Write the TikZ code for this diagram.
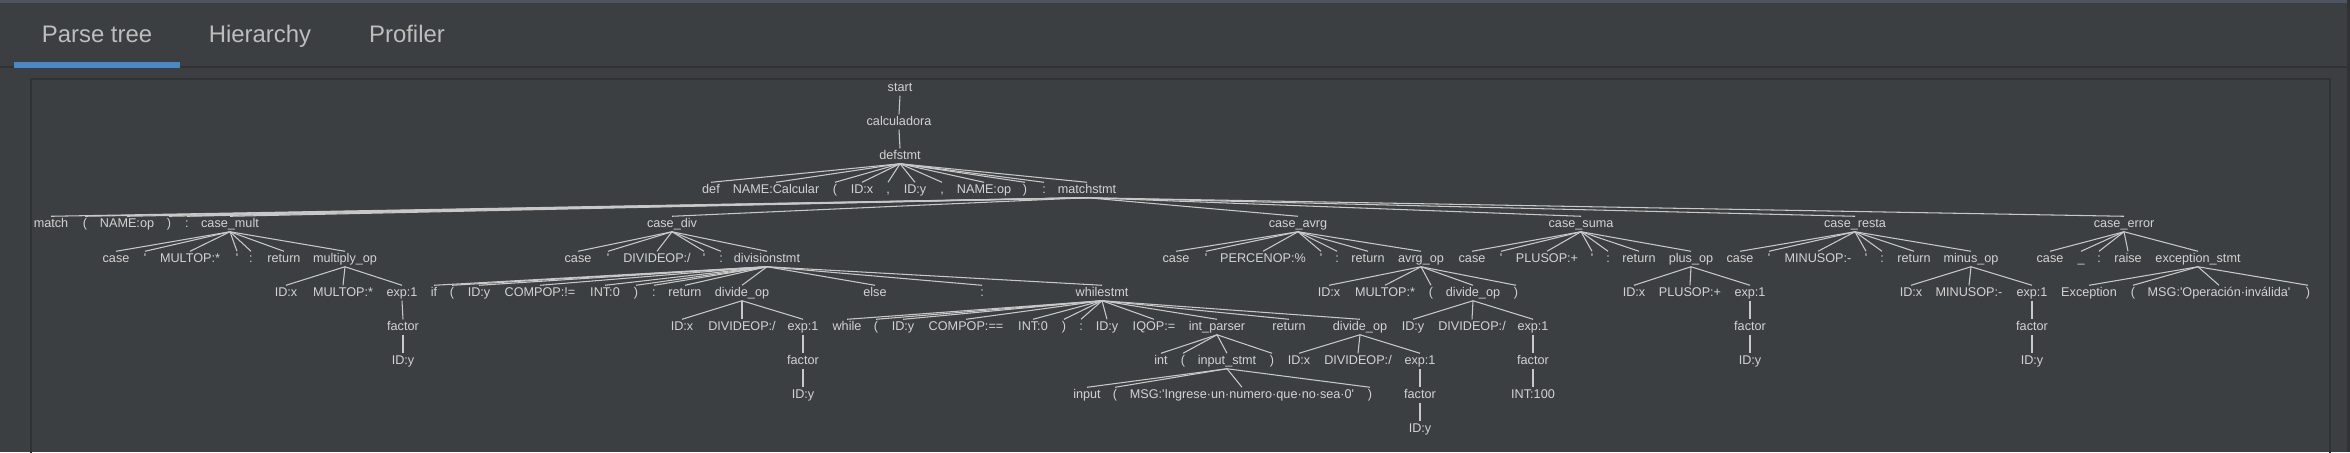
\documentclass[tikz,border=0pt]{standalone}
\usepackage{fontspec}
\setmainfont{Liberation Sans}
\usepackage{xcolor}
\usepackage{tikz}

\definecolor{panelbg}{HTML}{3C3F41}
\definecolor{panelline}{HTML}{303234}
\definecolor{topstripe}{HTML}{4E5560}
\definecolor{tabblue}{HTML}{4A88C7}
\definecolor{tabtext}{HTML}{BDBDBD}
\definecolor{treetext}{HTML}{D2D2D2}
\definecolor{treeline}{HTML}{C8C8C8}

\begin{document}
\begin{tikzpicture}[
  x=0.1mm, y=-0.1mm,
  tab/.style={anchor=base, inner sep=0, text=tabtext,
              font=\fontsize{6.8pt}{8pt}\selectfont},
  tok/.style={inner xsep=0, inner ysep=0.3pt, text=treetext,
              text height=2.6pt, text depth=0.8pt,
              font=\fontsize{3.6pt}{4pt}\selectfont},
  link/.style={draw=treeline, line width=0.3pt}
]
  \useasboundingbox (0,0) rectangle (2350,452);
  % window and tabs
  \fill[panelbg] (0,0) rectangle (2350,452);
  \fill[topstripe] (0,0) rectangle (2350,3);
  \fill[panelline] (0,66) rectangle (2350,68);
  \fill[tabblue] (14,62) rectangle (180,68);
  \fill[panelline] (2347,0) rectangle (2350,452);
  \draw[panelline, line width=0.2mm] (31,79) rectangle (2330,470);
  \node[tab] (tparse) at (97,42) {Parse tree};
  \node[tab] (thier) at (260,42) {Hierarchy};
  \node[tab] (tprof) at (407,42) {Profiler};

  % top of the tree
  \node[tok] (st) at (900,88) {start};
  \node[tok] (calc) at (899,122) {calculadora};
  \node[tok] (defs) at (900,156) {defstmt};

  \node[tok] (kdef) at (711,190) {def};
  \node[tok] (fname) at (776,190) {NAME:Calcular};
  \node[tok] (lp) at (835,190) {(};
  \node[tok] (px) at (862,190) {ID:x};
  \node[tok] (cm1) at (888,190) {,};
  \node[tok] (py) at (915,190) {ID:y};
  \node[tok] (cm2) at (942,190) {,};
  \node[tok] (pop) at (984,190) {NAME:op};
  \node[tok] (rp) at (1025,190) {)};
  \node[tok] (col) at (1044,190) {:};
  \node[tok] (mstmt) at (1087,190) {matchstmt};

  \node[tok] (mt) at (51,224) {match};
  \node[tok] (mlp) at (85,224) {(};
  \node[tok] (mop) at (127,224) {NAME:op};
  \node[tok] (mrp) at (169,224) {)};
  \node[tok] (mcol) at (187,224) {:};
  \node[tok] (cmul) at (230,224) {case\_mult};
  \node[tok] (cdiv) at (672,224) {case\_div};
  \node[tok] (cavg) at (1298,224) {case\_avrg};
  \node[tok] (csum) at (1581,224) {case\_suma};
  \node[tok] (cres) at (1855,224) {case\_resta};
  \node[tok] (cerr) at (2124,224) {case\_error};

  % case_mult
  \node[tok] (mulk) at (116,259) {case};
  \node[tok] (mulq1) at (145,259) {\textquotesingle};
  \node[tok] (mulop) at (190,259) {MULTOP:*};
  \node[tok] (mulq2) at (237,259) {\textquotesingle};
  \node[tok] (mulc) at (251,259) {:};
  \node[tok] (mulr) at (284,259) {return};
  \node[tok] (mulo) at (345,259) {multiply\_op};
  \node[tok] (mx) at (286,293) {ID:x};
  \node[tok] (mm) at (343,293) {MULTOP:*};
  \node[tok] (me) at (402,293) {exp:1};
  \node[tok] (mf) at (403,327) {factor};
  \node[tok] (mid) at (403,361) {ID:y};

  % case_div
  \node[tok] (divk) at (578,259) {case};
  \node[tok] (divq1) at (608,259) {\textquotesingle};
  \node[tok] (divop) at (657,259) {DIVIDEOP:/};
  \node[tok] (divq2) at (704,259) {\textquotesingle};
  \node[tok] (divc) at (721,259) {:};
  \node[tok] (dstmt) at (767,259) {divisionstmt};
  \node[tok] (dif) at (434,293) {if};
  \node[tok] (dlp) at (452,293) {(};
  \node[tok] (dy) at (479,293) {ID:y};
  \node[tok] (dne) at (540,293) {COMPOP:!=};
  \node[tok] (dz) at (605,293) {INT:0};
  \node[tok] (drp) at (636,293) {)};
  \node[tok] (dcol) at (654,293) {:};
  \node[tok] (dret) at (685,293) {return};
  \node[tok] (ddo) at (742,293) {divide\_op};
  \node[tok] (delse) at (875,293) {else};
  \node[tok] (dcol2) at (982,293) {:};
  \node[tok] (wst) at (1102,293) {whilestmt};
  \node[tok] (ddx) at (682,327) {ID:x};
  \node[tok] (ddd) at (742,327) {DIVIDEOP:/};
  \node[tok] (dde) at (803,327) {exp:1};
  \node[tok] (ddf) at (803,361) {factor};
  \node[tok] (ddid) at (803,395) {ID:y};

  % whilestmt
  \node[tok] (wk) at (847,327) {while};
  \node[tok] (wlp) at (876,327) {(};
  \node[tok] (wy) at (903,327) {ID:y};
  \node[tok] (weq) at (966,327) {COMPOP:==};
  \node[tok] (wz) at (1033,327) {INT:0};
  \node[tok] (wrp) at (1064,327) {)};
  \node[tok] (wc) at (1081,327) {:};
  \node[tok] (wy2) at (1107,327) {ID:y};
  \node[tok] (wiq) at (1154,327) {IQOP:=};
  \node[tok] (wip) at (1217,327) {int\_parser};
  \node[tok] (wret) at (1289,327) {return};
  \node[tok] (wdo) at (1360,327) {divide\_op};
  \node[tok] (ik) at (1161,361) {int};
  \node[tok] (ilp) at (1183,361) {(};
  \node[tok] (ist) at (1227,361) {input\_stmt};
  \node[tok] (irp) at (1272,361) {)};
  \node[tok] (isk) at (1087,395) {input};
  \node[tok] (islp) at (1115,395) {(};
  \node[tok] (ismsg) at (1242,395) {MSG:\textquotesingle Ingrese·un·numero·que·no·sea·0\textquotesingle};
  \node[tok] (isrp) at (1370,395) {)};
  \node[tok] (wdx) at (1299,361) {ID:x};
  \node[tok] (wdd) at (1358,361) {DIVIDEOP:/};
  \node[tok] (wde) at (1420,361) {exp:1};
  \node[tok] (wdf) at (1420,395) {factor};
  \node[tok] (wdid) at (1420,429) {ID:y};

  % case_avrg
  \node[tok] (avgk) at (1176,259) {case};
  \node[tok] (avgq1) at (1206,259) {\textquotesingle};
  \node[tok] (avgop) at (1263,259) {PERCENOP:\%};
  \node[tok] (avgq2) at (1321,259) {\textquotesingle};
  \node[tok] (avgc) at (1337,259) {:};
  \node[tok] (avgr) at (1368,259) {return};
  \node[tok] (avgo) at (1421,259) {avrg\_op};
  \node[tok] (ax) at (1329,293) {ID:x};
  \node[tok] (am) at (1385,293) {MULTOP:*};
  \node[tok] (alp) at (1431,293) {(};
  \node[tok] (ado) at (1473,293) {divide\_op};
  \node[tok] (arp) at (1516,293) {)};
  \node[tok] (ady) at (1413,327) {ID:y};
  \node[tok] (add) at (1472,327) {DIVIDEOP:/};
  \node[tok] (ade) at (1533,327) {exp:1};
  \node[tok] (adf) at (1533,361) {factor};
  \node[tok] (aint) at (1533,395) {INT:100};

  % case_suma
  \node[tok] (sumk) at (1472,259) {case};
  \node[tok] (sumq1) at (1501,259) {\textquotesingle};
  \node[tok] (sumop) at (1547,259) {PLUSOP:+};
  \node[tok] (sumq2) at (1592,259) {\textquotesingle};
  \node[tok] (sumc) at (1608,259) {:};
  \node[tok] (sumr) at (1639,259) {return};
  \node[tok] (sumo) at (1691,259) {plus\_op};
  \node[tok] (sx) at (1634,293) {ID:x};
  \node[tok] (sp) at (1690,293) {PLUSOP:+};
  \node[tok] (se) at (1750,293) {exp:1};
  \node[tok] (sf) at (1750,327) {factor};
  \node[tok] (sid) at (1750,361) {ID:y};

  % case_resta
  \node[tok] (resk) at (1740,259) {case};
  \node[tok] (resq1) at (1769,259) {\textquotesingle};
  \node[tok] (resop) at (1818,259) {MINUSOP:-};
  \node[tok] (resq2) at (1866,259) {\textquotesingle};
  \node[tok] (resc) at (1882,259) {:};
  \node[tok] (resr) at (1914,259) {return};
  \node[tok] (reso) at (1971,259) {minus\_op};
  \node[tok] (rx) at (1911,293) {ID:x};
  \node[tok] (rm) at (1969,293) {MINUSOP:-};
  \node[tok] (re) at (2032,293) {exp:1};
  \node[tok] (rf) at (2032,327) {factor};
  \node[tok] (rid) at (2032,361) {ID:y};

  % case_error
  \node[tok] (errk) at (2050,259) {case};
  \node[tok] (erru) at (2081,259) {\_};
  \node[tok] (errc) at (2099,259) {:};
  \node[tok] (errr) at (2128,259) {raise};
  \node[tok] (exst) at (2198,259) {exception\_stmt};
  \node[tok] (exc) at (2089,293) {Exception};
  \node[tok] (elp) at (2133,293) {(};
  \node[tok] (emsg) at (2219,293) {MSG:\textquotesingle Operación·inválida\textquotesingle};
  \node[tok] (erp) at (2308,293) {)};

  % links
  \draw[link] (st.south) -- (calc.north);
  \draw[link] (calc.south) -- (defs.north);
  \draw[link] (defs.south) edge (kdef.north) edge (fname.north) edge (lp.north)
    edge (px.north) edge (cm1.north) edge (py.north) edge (cm2.north)
    edge (pop.north) edge (rp.north) edge (col.north) edge (mstmt.north);
  \draw[link] (mstmt.south) edge (mt.north) edge (mlp.north) edge (mop.north)
    edge (mrp.north) edge (mcol.north) edge (cmul.north) edge (cdiv.north)
    edge (cavg.north) edge (csum.north) edge (cres.north) edge (cerr.north);
  \draw[link] (cmul.south) edge (mulk.north) edge (mulq1.north) edge (mulop.north)
    edge (mulq2.north) edge (mulc.north) edge (mulr.north) edge (mulo.north);
  \draw[link] (mulo.south) edge (mx.north) edge (mm.north) edge (me.north);
  \draw[link] (me.south) -- (mf.north);
  \draw[link] (mf.south) -- (mid.north);
  \draw[link] (cdiv.south) edge (divk.north) edge (divq1.north) edge (divop.north)
    edge (divq2.north) edge (divc.north) edge (dstmt.north);
  \draw[link] (dstmt.south) edge (dif.north) edge (dlp.north) edge (dy.north)
    edge (dne.north) edge (dz.north) edge (drp.north) edge (dcol.north)
    edge (dret.north) edge (ddo.north) edge (delse.north) edge (dcol2.north)
    edge (wst.north);
  \draw[link] (ddo.south) edge (ddx.north) edge (ddd.north) edge (dde.north);
  \draw[link] (dde.south) -- (ddf.north);
  \draw[link] (ddf.south) -- (ddid.north);
  \draw[link] (wst.south) edge (wk.north) edge (wlp.north) edge (wy.north)
    edge (weq.north) edge (wz.north) edge (wrp.north) edge (wc.north)
    edge (wy2.north) edge (wiq.north) edge (wip.north) edge (wret.north)
    edge (wdo.north);
  \draw[link] (wip.south) edge (ik.north) edge (ilp.north) edge (ist.north)
    edge (irp.north);
  \draw[link] (ist.south) edge (isk.north) edge (islp.north) edge (ismsg.north)
    edge (isrp.north);
  \draw[link] (wdo.south) edge (wdx.north) edge (wdd.north) edge (wde.north);
  \draw[link] (wde.south) -- (wdf.north);
  \draw[link] (wdf.south) -- (wdid.north);
  \draw[link] (cavg.south) edge (avgk.north) edge (avgq1.north) edge (avgop.north)
    edge (avgq2.north) edge (avgc.north) edge (avgr.north) edge (avgo.north);
  \draw[link] (avgo.south) edge (ax.north) edge (am.north) edge (alp.north)
    edge (ado.north) edge (arp.north);
  \draw[link] (ado.south) edge (ady.north) edge (add.north) edge (ade.north);
  \draw[link] (ade.south) -- (adf.north);
  \draw[link] (adf.south) -- (aint.north);
  \draw[link] (csum.south) edge (sumk.north) edge (sumq1.north) edge (sumop.north)
    edge (sumq2.north) edge (sumc.north) edge (sumr.north) edge (sumo.north);
  \draw[link] (sumo.south) edge (sx.north) edge (sp.north) edge (se.north);
  \draw[link] (se.south) -- (sf.north);
  \draw[link] (sf.south) -- (sid.north);
  \draw[link] (cres.south) edge (resk.north) edge (resq1.north) edge (resop.north)
    edge (resq2.north) edge (resc.north) edge (resr.north) edge (reso.north);
  \draw[link] (reso.south) edge (rx.north) edge (rm.north) edge (re.north);
  \draw[link] (re.south) -- (rf.north);
  \draw[link] (rf.south) -- (rid.north);
  \draw[link] (cerr.south) edge (errk.north) edge (erru.north) edge (errc.north)
    edge (errr.north) edge (exst.north);
  \draw[link] (exst.south) edge (exc.north) edge (elp.north) edge (emsg.north)
    edge (erp.north);
\end{tikzpicture}
\end{document}
